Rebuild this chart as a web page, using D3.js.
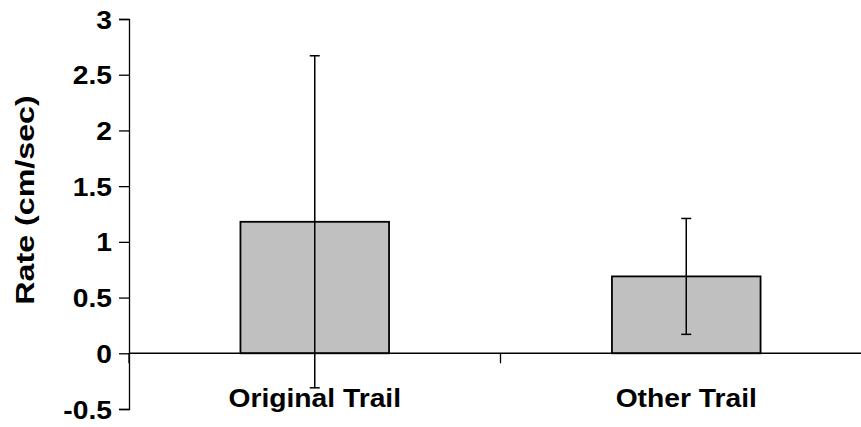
<!DOCTYPE html>
<html>
<head>
<meta charset="utf-8">
<script src="https://cdn.jsdelivr.net/npm/d3@7"></script>
<style>
  html, body { margin: 0; padding: 0; background: #fff; }
  svg { display: block; }
  text { font-family: "Liberation Sans", Arial, sans-serif; font-weight: bold; fill: #000; }
</style>
</head>
<body>
<svg id="chart" width="861" height="427"></svg>
<script>
// Mean movement rate per trail, with error bar half-widths
const categories = ["Original Trail", "Other Trail"];
const rates = [1.18, 0.69];
const errors = [1.49, 0.52];
const yTicks = [-0.5, 0, 0.5, 1, 1.5, 2, 2.5, 3];
const yTitle = "Rate (cm/sec)";

const svg = d3.select("#chart");
const stretch = 1.13;   // wide lettering
const fontSize = 25;

const x = d3.scaleBand()
  .domain(categories)
  .range([129, 872])
  .paddingInner(0.6)
  .paddingOuter(0.3);

const y = d3.scaleLinear()
  .domain([-0.5, 3])
  .range([409, 19]);

// Value axis
const yAxis = svg.append("g")
  .attr("transform", `translate(${x.range()[0]},0)`)
  .call(d3.axisLeft(y).tickValues(yTicks).tickSize(10)
    .tickFormat(d => String(d)));
yAxis.select(".domain").attr("stroke", "#000").attr("stroke-width", 1.3);
yAxis.selectAll(".tick line").attr("stroke", "#000").attr("stroke-width", 1.3);
yAxis.selectAll(".tick text")
  .attr("font-size", fontSize)
  .attr("x", -17 / stretch)
  .attr("dy", "0.36em")
  .attr("transform", `scale(${stretch},1)`);

// Bars
svg.append("g").selectAll("rect")
  .data(categories)
  .join("rect")
  .attr("x", d => x(d))
  .attr("width", x.bandwidth())
  .attr("y", (d, i) => y(Math.max(0, rates[i])))
  .attr("height", (d, i) => Math.abs(y(rates[i]) - y(0)))
  .attr("fill", "#c0c0c0")
  .attr("stroke", "#000")
  .attr("stroke-width", 1.8);

// Category axis along zero, with outward ticks at category boundaries
const step = x.step();
const boundaries = d3.range(categories.length + 1).map(i => x.range()[0] + i * step);
svg.append("line")
  .attr("x1", x.range()[0]).attr("x2", x.range()[1])
  .attr("y1", y(0)).attr("y2", y(0))
  .attr("stroke", "#000").attr("stroke-width", 1.5);
svg.append("g").selectAll("line")
  .data(boundaries)
  .join("line")
  .attr("x1", d => d).attr("x2", d => d)
  .attr("y1", y(0)).attr("y2", y(0) + 10)
  .attr("stroke", "#000").attr("stroke-width", 1.3);

// Error bars
const eb = svg.append("g").attr("stroke", "#000").attr("stroke-width", 1.5);
categories.forEach((c, i) => {
  const cx = x(c) + x.bandwidth() / 2;
  const top = y(rates[i] + errors[i]);
  const bot = y(rates[i] - errors[i]);
  eb.append("line").attr("x1", cx).attr("x2", cx).attr("y1", top).attr("y2", bot);
  eb.append("line").attr("x1", cx - 5).attr("x2", cx + 5).attr("y1", top).attr("y2", top);
  eb.append("line").attr("x1", cx - 5).attr("x2", cx + 5).attr("y1", bot).attr("y2", bot);
});

// Category labels
svg.append("g").selectAll("text")
  .data(categories)
  .join("text")
  .attr("transform", d => `translate(${x(d) + x.bandwidth() / 2},407) scale(${stretch},1)`)
  .attr("text-anchor", "middle")
  .attr("font-size", fontSize)
  .text(d => d);

// Value axis title
svg.append("text")
  .attr("transform", `translate(34,${(y(3) + y(-0.5)) / 2 - 14}) rotate(-90) scale(1.24,1)`)
  .attr("text-anchor", "middle")
  .attr("font-size", 26)
  .text(yTitle);
</script>
</body>
</html>
